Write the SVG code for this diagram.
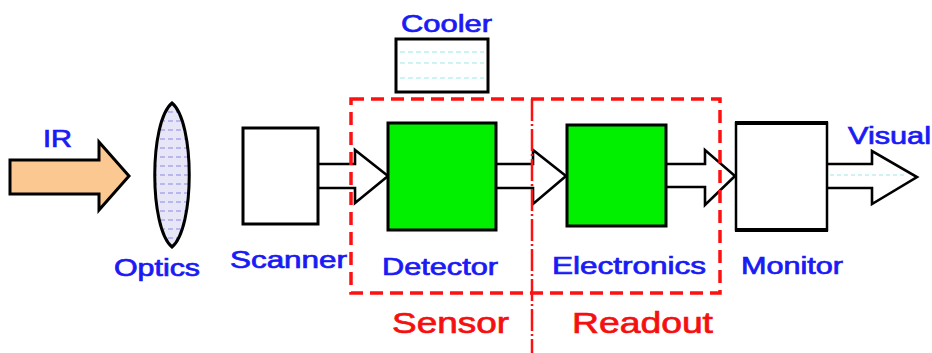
<svg xmlns="http://www.w3.org/2000/svg" width="932" height="353" viewBox="0 0 932 353">
<defs>
<style>
.lbl{font-family:"Liberation Sans",Arial,sans-serif;fill:#1a1af5;stroke:#1a1af5;stroke-width:0.7;font-size:23px;}
.red{font-family:"Liberation Sans",Arial,sans-serif;fill:#f51010;stroke:#f51010;stroke-width:0.7;font-size:30px;}
.box{stroke:#000;stroke-width:3;}
.arr{fill:#fff;stroke:#000;stroke-width:2.6;stroke-linejoin:miter;}
.dash{fill:none;stroke:#ff1010;stroke-width:3.5;stroke-dasharray:13 7;}
</style>
<pattern id="lensPat" width="8" height="9" patternUnits="userSpaceOnUse">
<rect width="8" height="9" fill="#e6e6f6"/>
<line x1="0" y1="4" x2="5" y2="4" stroke="#8a8ae8" stroke-width="1"/>
</pattern>
</defs>
<rect width="932" height="353" fill="#fff"/>

<g id="ir">
<path d="M10,160 H99 V142 L129,176 L99,210 V194 H10 Z" fill="#fcc891" stroke="#000" stroke-width="3"/>
<text class="lbl" x="43" y="147" font-size="21" textLength="29" lengthAdjust="spacingAndGlyphs">IR</text>
</g>

<g id="optics">
<path d="M172,103 C195,122 195,228 172,247 C149,228 149,122 172,103 Z" fill="url(#lensPat)" stroke="#000" stroke-width="3"/>
<text class="lbl" x="114" y="276" textLength="86" lengthAdjust="spacingAndGlyphs">Optics</text>
</g>

<g id="connectors">
<path class="arr" d="M318,164 H355 V150 L388,176 L355,203 V188 H318"/>
<path class="arr" d="M496,164 H533 V150 L566,176 L533,204 V188 H496"/>
<path class="arr" d="M666,164 H705 V150 L735,176 L705,205 V187 H666"/>
<path class="arr" d="M827,164 H872 V151 L917,177 L872,204 V188 H827"/>
<line x1="830" y1="175" x2="905" y2="175" stroke="#bfeff0" stroke-width="1.5" stroke-dasharray="4 3"/>
</g>

<g id="scanner">
<rect class="box" x="243" y="128" width="75" height="96" fill="#fff"/>
<text class="lbl" x="230" y="268" font-size="22" textLength="117" lengthAdjust="spacingAndGlyphs">Scanner</text>
</g>

<g id="cooler">
<rect class="box" x="396" y="39" width="92" height="53" fill="#fff"/>
<g stroke="#bff0f0" stroke-width="1.5" stroke-dasharray="5 3">
<line x1="400" y1="52" x2="484" y2="52"/>
<line x1="400" y1="63" x2="484" y2="63"/>
<line x1="400" y1="78" x2="484" y2="78"/>
</g>
<text class="lbl" x="401" y="32" textLength="91" lengthAdjust="spacingAndGlyphs">Cooler</text>
</g>

<g id="detector">
<rect class="box" x="388" y="123" width="108" height="107" fill="#00f000"/>
<text class="lbl" x="382" y="275" textLength="116" lengthAdjust="spacingAndGlyphs">Detector</text>
</g>

<g id="electronics">
<rect class="box" x="567" y="125" width="99" height="101" fill="#00f000"/>
<text class="lbl" x="552" y="274" textLength="154" lengthAdjust="spacingAndGlyphs">Electronics</text>
</g>

<g id="monitor">
<rect x="736" y="123" width="91" height="107" fill="#fff" stroke="#000" stroke-width="2.5"/>
<line x1="735" y1="123" x2="828" y2="123" stroke="#000" stroke-width="4"/>
<line x1="735" y1="230" x2="828" y2="230" stroke="#000" stroke-width="4"/>
<text class="lbl" x="741" y="274" textLength="102" lengthAdjust="spacingAndGlyphs">Monitor</text>
</g>

<g id="visual">
<text class="lbl" x="848" y="144" textLength="83" lengthAdjust="spacingAndGlyphs">Visual</text>
</g>

<g id="sensor">
<rect class="dash" x="351" y="99" width="369" height="194"/>
<line x1="532" y1="99" x2="532" y2="353" stroke="#ff1010" stroke-width="2.5" stroke-dasharray="22 3 2 3"/>
<text class="red" x="392" y="333" textLength="117" lengthAdjust="spacingAndGlyphs">Sensor</text>
</g>

<g id="readout">
<text class="red" x="572" y="333" textLength="141" lengthAdjust="spacingAndGlyphs">Readout</text>
</g>
</svg>
